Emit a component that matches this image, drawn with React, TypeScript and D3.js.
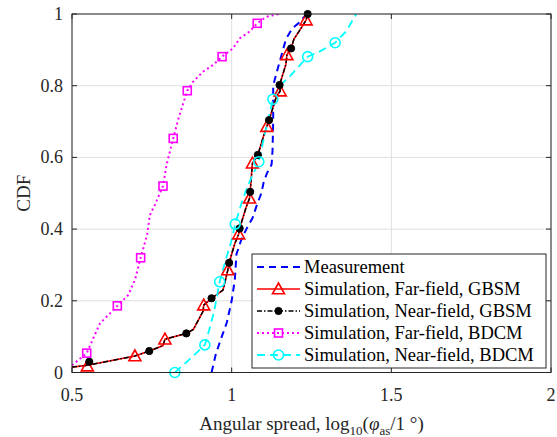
import React from "react";
import * as d3 from "d3";

// ---- data ----
const xTicks = [0.5, 1, 1.5, 2];
const yTicks = [0, 0.2, 0.4, 0.6, 0.8, 1];

const measX = [0.937, 0.95, 0.965, 0.985, 1.0, 1.01, 1.015, 1.03, 1.046, 1.065, 1.08, 1.093, 1.1, 1.11, 1.125, 1.128, 1.13, 1.13, 1.145, 1.17, 1.19, 1.21, 1.235];
const measY = [0.0, 0.05, 0.09, 0.14, 0.2, 0.26, 0.33, 0.37, 0.4, 0.43, 0.47, 0.5, 0.53, 0.555, 0.58, 0.62, 0.7, 0.8, 0.85, 0.93, 0.96, 0.975, 1.0];

const ffGbsmX = [0.5, 0.548, 0.697, 0.742, 0.785, 0.791, 0.858, 0.88, 0.91, 0.9125, 0.937, 0.973, 0.988, 0.992, 1.01, 1.022, 1.025, 1.045, 1.056, 1.058, 1.065, 1.082, 1.1, 1.11, 1.117, 1.14, 1.152, 1.15, 1.17, 1.173, 1.186, 1.195, 1.21, 1.233, 1.238];
const ffGbsmY = [0.015, 0.02, 0.046, 0.06, 0.075, 0.093, 0.109, 0.12, 0.17, 0.188, 0.207, 0.23, 0.286, 0.306, 0.36, 0.386, 0.402, 0.46, 0.486, 0.504, 0.584, 0.607, 0.66, 0.686, 0.704, 0.77, 0.785, 0.802, 0.86, 0.886, 0.904, 0.93, 0.95, 0.983, 1.0];
const ffGbsmMarkX = [0.548, 0.697, 0.791, 0.9125, 0.988, 1.022, 1.056, 1.065, 1.11, 1.152, 1.173, 1.233];
const ffGbsmMarkY = [0.018, 0.046, 0.093, 0.188, 0.286, 0.386, 0.486, 0.584, 0.686, 0.785, 0.886, 0.983];

const nfGbsmX = ffGbsmX;
const nfGbsmY = ffGbsmY;
const nfGbsmMarkX = [0.554, 0.742, 0.858, 0.937, 0.992, 1.025, 1.058, 1.082, 1.117, 1.15, 1.186, 1.238];
const nfGbsmMarkY = [0.03, 0.06, 0.109, 0.207, 0.306, 0.402, 0.504, 0.607, 0.704, 0.802, 0.904, 1.0];

const ffBdcmX = [0.5, 0.546, 0.5875, 0.619, 0.642, 0.676, 0.697, 0.715, 0.735, 0.744, 0.759, 0.785, 0.796, 0.817, 0.832, 0.85, 0.861, 0.879, 0.91, 0.942, 0.97, 1.004, 1.025, 1.056, 1.08, 1.108, 1.148];
const ffBdcmY = [0.02, 0.054, 0.137, 0.165, 0.186, 0.216, 0.258, 0.32, 0.384, 0.439, 0.467, 0.52, 0.579, 0.653, 0.704, 0.755, 0.786, 0.811, 0.839, 0.858, 0.881, 0.904, 0.932, 0.951, 0.974, 0.992, 1.0];
const ffBdcmMarkX = [0.546, 0.642, 0.715, 0.785, 0.817, 0.861, 0.97, 1.08];
const ffBdcmMarkY = [0.054, 0.186, 0.32, 0.52, 0.653, 0.786, 0.881, 0.974];

const nfBdcmX = [0.822, 0.86, 0.916, 0.93, 0.945, 0.9625, 0.98, 1.0, 1.011, 1.03, 1.05, 1.085, 1.1, 1.129, 1.15, 1.181, 1.238, 1.275, 1.324, 1.358, 1.39];
const nfBdcmY = [0.0, 0.03, 0.077, 0.12, 0.17, 0.253, 0.31, 0.37, 0.414, 0.47, 0.52, 0.588, 0.65, 0.762, 0.8, 0.825, 0.881, 0.895, 0.92, 0.951, 1.0];
const nfBdcmMarkX = [0.822, 0.916, 0.9625, 1.011, 1.085, 1.129, 1.238, 1.324];
const nfBdcmMarkY = [0.0, 0.077, 0.253, 0.414, 0.588, 0.762, 0.881, 0.92];

const legendLabels = [
  "Measurement",
  "Simulation, Far-field, GBSM",
  "Simulation, Near-field, GBSM",
  "Simulation, Far-field, BDCM",
  "Simulation, Near-field, BDCM",
];

// ---- layout ----
const W = 557, H = 437;
const L = 72, R = 551, T = 14, B = 372.5;
const FONT = "Liberation Serif";

const x = d3.scaleLinear().domain([0.5, 2]).range([L, R]);
const y = d3.scaleLinear().domain([0, 1]).range([B, T]);

const zip = (xs: number[], ys: number[]) => xs.map((v, i) => [v, ys[i]] as [number, number]);
const lineGen = d3.line<[number, number]>().x(d => x(d[0])).y(d => y(d[1]));

type Mk = "none" | "tri" | "dot" | "sq" | "circ";
const series = [
  { xs: measX, ys: measY, mx: [] as number[], my: [] as number[], color: "#0000ff", dash: "7,5", w: 2, mk: "none" as Mk },
  { xs: ffGbsmX, ys: ffGbsmY, mx: ffGbsmMarkX, my: ffGbsmMarkY, color: "#ff0000", dash: "", w: 1.6, mk: "tri" as Mk },
  { xs: nfGbsmX, ys: nfGbsmY, mx: nfGbsmMarkX, my: nfGbsmMarkY, color: "#000000", dash: "5,2,1.5,2", w: 1.5, mk: "dot" as Mk },
  { xs: ffBdcmX, ys: ffBdcmY, mx: ffBdcmMarkX, my: ffBdcmMarkY, color: "#ff00ff", dash: "2,3", w: 2, mk: "sq" as Mk },
  { xs: nfBdcmX, ys: nfBdcmY, mx: nfBdcmMarkX, my: nfBdcmMarkY, color: "#00ffff", dash: "8,5", w: 1.8, mk: "circ" as Mk },
];

function Marker({ kind, cx, cy, color }: { kind: Mk; cx: number; cy: number; color: string }) {
  if (kind === "tri") {
    const s = 6;
    return <path d={`M${cx},${cy - s} L${cx + s},${cy + s * 0.8} L${cx - s},${cy + s * 0.8} Z`} fill="none" stroke={color} strokeWidth={1.6} />;
  }
  if (kind === "dot") return <circle cx={cx} cy={cy} r={3.6} fill={color} stroke={color} strokeWidth={1} />;
  if (kind === "sq") return <rect x={cx - 4} y={cy - 4} width={8} height={8} fill="none" stroke={color} strokeWidth={1.6} />;
  if (kind === "circ") return <circle cx={cx} cy={cy} r={5} fill="none" stroke={color} strokeWidth={1.6} />;
  return null;
}

export default function App() {
  const legX = 252, legY = 254, legW = 294, legH = 114;
  const rowH = 22;
  const ts = { fontFamily: FONT };
  return (
    <svg width={W} height={H} style={{ position: "absolute", left: 0, top: 0, background: "#fff" }}>
      <defs>
        <clipPath id="plotclip">
          <rect x={L} y={T} width={R - L} height={B - T} />
        </clipPath>
      </defs>
      <rect x={0} y={0} width={W} height={H} fill="#fff" />
      {/* grid */}
      {xTicks.map(t => (
        <line key={"gx" + t} x1={x(t)} x2={x(t)} y1={T} y2={B} stroke="#dfdfdf" strokeWidth={1} />
      ))}
      {yTicks.map(t => (
        <line key={"gy" + t} x1={L} x2={R} y1={y(t)} y2={y(t)} stroke="#dfdfdf" strokeWidth={1} />
      ))}
      {/* series */}
      <g clipPath="url(#plotclip)">
        {series.map((s, i) => (
          <path key={"l" + i} d={lineGen(zip(s.xs, s.ys)) || ""} fill="none" stroke={s.color} strokeWidth={s.w} strokeDasharray={s.dash || undefined} />
        ))}
      </g>
      {series.map((s, i) => (
        <g key={"m" + i}>
          {s.mx.map((v, j) => (
            <Marker key={j} kind={s.mk} cx={x(v)} cy={y(s.my[j])} color={s.color} />
          ))}
        </g>
      ))}
      {/* axes box */}
      <rect x={L} y={T} width={R - L} height={B - T} fill="none" stroke="#262626" strokeWidth={1} />
      {xTicks.map(t => (
        <g key={"tx" + t}>
          <line x1={x(t)} x2={x(t)} y1={B} y2={B - 5} stroke="#262626" />
          <line x1={x(t)} x2={x(t)} y1={T} y2={T + 5} stroke="#262626" />
          <text x={x(t)} y={401} textAnchor="middle" fontSize={18} fill="#262626" style={ts}>{String(t)}</text>
        </g>
      ))}
      {yTicks.map(t => (
        <g key={"ty" + t}>
          <line x1={L} x2={L + 5} y1={y(t)} y2={y(t)} stroke="#262626" />
          <line x1={R} x2={R - 5} y1={y(t)} y2={y(t)} stroke="#262626" />
          <text x={63} y={y(t) + 6} textAnchor="end" fontSize={18} fill="#262626" style={ts}>{String(t)}</text>
        </g>
      ))}
      <text transform={`translate(30,${(T + B) / 2}) rotate(-90)`} textAnchor="middle" fontSize={19} fill="#262626" style={ts}>CDF</text>
      <text x={(L + R) / 2} y={430} textAnchor="middle" fontSize={19} fill="#262626" style={ts}>
        Angular spread, log<tspan fontSize={13} dy={5}>10</tspan><tspan dy={-5}>(</tspan><tspan fontStyle="italic">φ</tspan><tspan fontSize={13} dy={5}>as</tspan><tspan dy={-5}>/1 °)</tspan>
      </text>
      {/* legend */}
      <rect x={legX} y={legY} width={legW} height={legH} fill="#fff" stroke="#262626" strokeWidth={1} />
      {series.map((s, i) => {
        const cy = legY + 13 + i * rowH;
        return (
          <g key={"lg" + i}>
            <line x1={257} x2={300} y1={cy} y2={cy} stroke={s.color} strokeWidth={s.w} strokeDasharray={s.dash || undefined} />
            <Marker kind={s.mk} cx={278.5} cy={cy} color={s.color} />
            <text x={304} y={cy + 6} fontSize={18.5} fill="#000" style={ts}>{legendLabels[i]}</text>
          </g>
        );
      })}
    </svg>
  );
}
